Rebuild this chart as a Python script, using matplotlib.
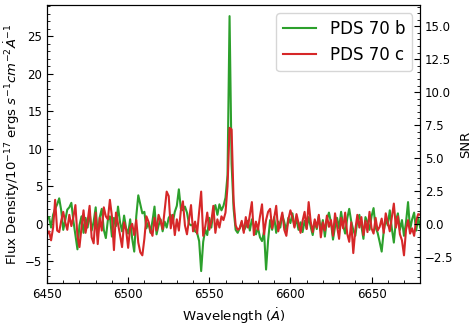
import numpy as np
import matplotlib
matplotlib.use("Agg")
import matplotlib.pyplot as plt
from matplotlib.ticker import MultipleLocator

# Wavelength grid (Angstrom), 1.25 A sampling
wave_start = 6450.0
wave_step = 1.25

flux_b = [
    0.6, 0.9, -0.5, 1.2, 2.0, 2.6, 3.4, 1.8, -0.8, 0.5,
    1.9, 2.2, 2.8, 0.4, -1.5, -3.4, -0.2, 1.0, -1.2, 0.8,
    -0.5, 1.5, -0.9, 0.3, 2.2, -1.6, 0.9, 2.0, -0.8, -1.9,
    0.5, 1.0, -1.7, 0.8, -0.3, 2.3, 0.2, -1.0, 1.1, -0.6,
    -1.3, 0.6, -2.0, -3.7, 1.0, 3.8, 2.6, 1.4, 1.6, -0.6,
    0.2, -1.2, 0.4, 2.3, -1.4, -0.2, 0.6, -1.0, 0.3, -0.5,
    0.8, 1.2, 0.2, 1.6, 2.4, 4.6, 2.0, 1.8, 2.3, 1.5,
    0.0, -0.2, -0.1, -1.0, -1.2, -2.3, -6.3, -2.4, -0.8, -1.5,
    0.8, -0.5, 1.6, 2.5, 1.2, 2.6, 1.8, 2.4, 3.5, 6.5,
    27.7, 8.0, 2.0, -0.8, -1.2, -0.6, 0.2, -0.9, -0.4, 0.4,
    -0.9, 0.6, -0.3, -1.4, -0.5, -1.8, -2.3, -1.0, -6.1, -2.2,
    0.5, -0.8, 0.9, -1.2, 0.3, -0.5, 1.2, 0.2, -0.9, 0.8,
    0.1, 1.4, -0.3, 0.6, -0.8, 0.2, -1.1, 0.4, -0.6, 0.9,
    -0.4, -1.5, 0.3, -0.7, 1.0, -0.9, 0.5, -1.7, 0.6, 1.5,
    0.2, -2.1, -0.4, 0.8, -0.6, 1.6, -0.2, -1.3, 0.7, 2.0,
    0.3, -0.8, -1.6, 0.4, 1.2, -0.3, -2.0, 0.9, 0.2, -0.8,
    1.0, 2.1, -0.5, -1.2, -2.4, -3.7, -1.0, 0.6, -0.2, 1.8,
    -0.6, -2.5, 0.4, 1.4, -0.8, 0.5, -1.6, 0.2, 2.9, -0.8,
    0.6, 1.5, -0.9, 0.8, -0.5,
]

flux_c = [
    -1.4, -1.0, -2.2, -0.5, 3.2, -0.9, -1.1, 0.4, 1.6, 0.2,
    -0.8, 1.2, -0.3, 0.9, 2.5, -1.6, -3.1, -0.5, 1.8, -1.2,
    0.3, 2.4, -1.8, -2.6, 1.5, -2.7, 0.8, -0.9, 2.2, 1.0,
    0.6, 3.2, 1.0, -3.5, 1.5, 0.0, -1.5, -3.1, 0.2, -0.8,
    -3.2, -0.5, 0.0, -1.5, 0.5, -2.5, -3.8, -4.2, -2.0, 1.0,
    0.3, -0.9, -1.6, 0.8, -0.9, 1.2, 0.4, -0.7, 1.8, 4.3,
    3.7, -0.6, 1.2, -1.5, 0.6, -0.9, 1.8, 3.0, -0.2, -1.4,
    0.5, 2.5, -1.0, 0.3, -1.3, 1.6, 4.3, -1.6, -0.4, 1.5,
    -0.8, 0.3, 2.4, -1.2, 0.6, -0.5, 1.0, 0.5, 1.5, 5.0,
    12.8, 12.6, 3.0, -0.2, -0.8, -0.6, 0.4, -1.2, 0.9, -0.5,
    1.2, 2.9, -1.5, 0.3, -0.8, 1.0, 2.6, -1.4, 0.5, 1.6,
    2.0, -0.6, 0.8, 2.4, -1.0, 0.2, 1.5, -0.8, -1.6, 0.6,
    1.8, 0.9, -0.5, 1.3, 0.1, -1.2, 0.4, 1.6, -0.7, 2.9,
    0.3, -1.1, 0.6, -0.5, 1.2, -1.8, 0.2, -0.9, 1.1, -0.4,
    0.5, -1.6, 1.4, -0.3, -2.0, 0.8, -0.6, 1.5, -1.3, -2.4,
    0.2, -3.9, -0.8, 1.2, -0.5, 0.9, -1.5, 0.4, -1.1, 1.6,
    -0.6, -1.3, 0.8, -0.9, -0.4, 0.7, -1.2, 1.4, 0.2, -1.0,
    0.9, 2.7, -0.5, 1.0, -1.4, -2.2, -4.2, -0.8, 0.5, -1.3,
    -0.6, -1.6, 0.4, 1.3, 1.2,
]

labels = ["PDS 70 b", "PDS 70 c"]
colors = ["#2ca02c", "#d62728"]
snr_factor = 1.756  # flux per unit SNR

wave = wave_start + wave_step * np.arange(len(flux_b))

fig = plt.figure(figsize=(4.73, 3.25), dpi=100)
ax = fig.add_axes([0.0994, 0.129, 0.789, 0.856])
ax.plot(wave, flux_b, color=colors[0], lw=1.5, label=labels[0])
ax.plot(wave, flux_c, color=colors[1], lw=1.5, label=labels[1])

ax.set_xlim(6450, 6680)
ax.set_ylim(-7.9, 29.2)
ax.xaxis.set_major_locator(MultipleLocator(50))
ax.xaxis.set_minor_locator(MultipleLocator(10))
ax.yaxis.set_major_locator(MultipleLocator(5))
ax.yaxis.set_minor_locator(MultipleLocator(1))
ax.tick_params(which="both", direction="in", labelsize=8.5)
ax.tick_params(which="major", length=4)
ax.tick_params(which="minor", length=2)
ax.set_xlabel(r"Wavelength ($\dot{A}$)", fontsize=9.5)
ax.set_ylabel(r"Flux Density/$10^{-17}$ ergs $s^{-1}cm^{-2}\dot{A}^{-1}$", fontsize=9.5, labelpad=2)
ax.legend(loc="upper right", fontsize=12, handlelength=2.0)

ax2 = ax.twinx()
y0, y1 = ax.get_ylim()
ax2.set_ylim(y0 / snr_factor, y1 / snr_factor)
ax2.yaxis.set_major_locator(MultipleLocator(2.5))
ax2.yaxis.set_minor_locator(MultipleLocator(0.5))
ax2.tick_params(which="both", direction="in", labelsize=8.5)
ax2.tick_params(which="major", length=4)
ax2.tick_params(which="minor", length=2)
ax2.set_ylabel("SNR", fontsize=9.5, labelpad=4)

fig.savefig("out.png", dpi=100)
